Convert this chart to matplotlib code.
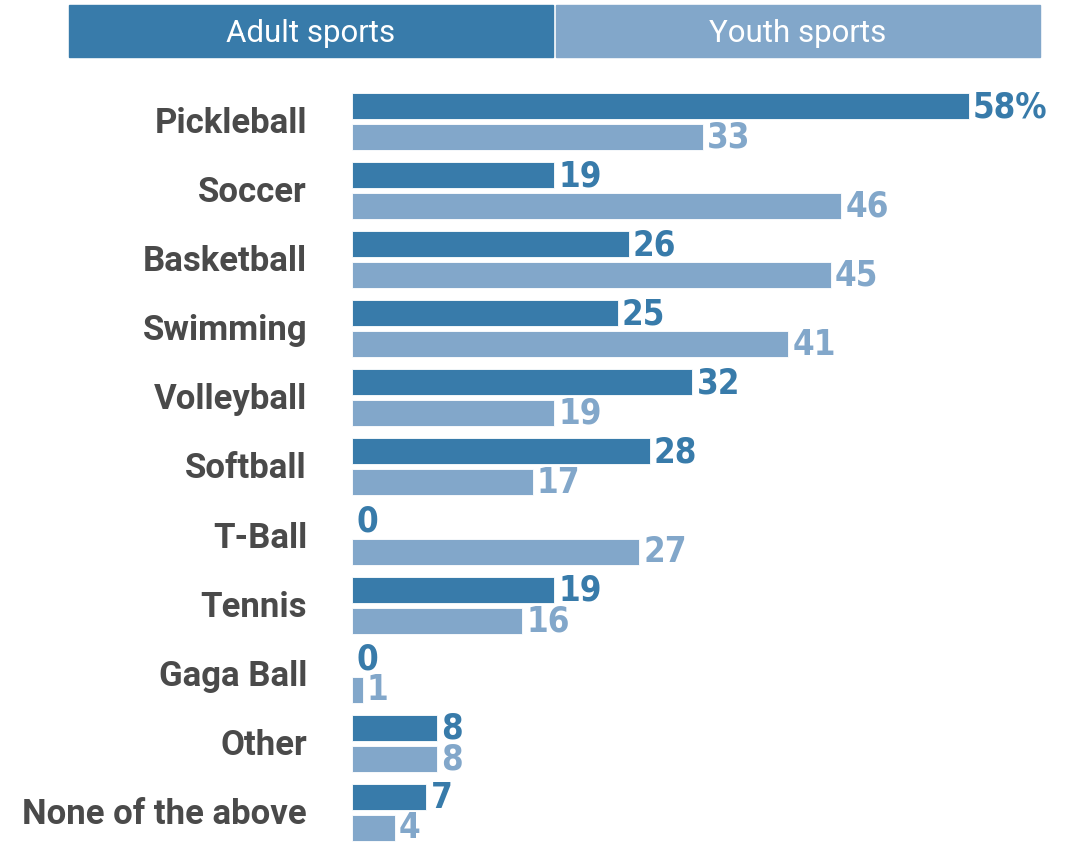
import matplotlib
matplotlib.use("Agg")
import matplotlib.pyplot as plt
from matplotlib.patches import Rectangle

categories = ["Pickleball", "Soccer", "Basketball", "Swimming", "Volleyball",
              "Softball", "T-Ball", "Tennis", "Gaga Ball", "Other", "None of the above"]
adult = [58, 19, 26, 25, 32, 28, 0, 19, 0, 8, 7]
youth = [33, 46, 45, 41, 19, 17, 27, 16, 1, 8, 4]
series_names = ["Adult sports", "Youth sports"]

DARK = "#387BAA"
LIGHT = "#82A7CA"
GREY = "#4A4A4A"

W, H = 1071, 842
fig = plt.figure(figsize=(W / 100, H / 100), dpi=100)

# axes spanning full height, left edge at bar baseline
ax_left = 352 / W
ax = fig.add_axes([ax_left, 0, 1 - ax_left, 1])
px_per_unit = 617 / 58
ax.set_xlim(0, (W - 352) / px_per_unit)
spacing = 69.1
top_center = 121.5
ax.set_ylim((H - top_center) / spacing, -top_center / spacing)
ax.axis("off")

off = 15.5 / spacing
bh = 26 / spacing
num_font = dict(family="DejaVu Sans", fontstretch="condensed", fontweight="bold", fontsize=25)

for i, (cat, a, y) in enumerate(zip(categories, adult, youth)):
    ax.barh(i - off, a, height=bh, color=DARK, edgecolor="white", linewidth=0.6)
    ax.barh(i + off, y, height=bh, color=LIGHT, edgecolor="white", linewidth=0.6)
    pad = 4 / px_per_unit
    lab_a = f"{a}%" if i == 0 else f"{a}"
    ax.text(a + pad, i - off + 0.015, lab_a, color=DARK, va="center", ha="left", **num_font)
    ax.text(y + pad, i + off + 0.005, f"{y}", color=LIGHT, va="center", ha="left", **num_font)
    fig.text(307 / W, 1 - (top_center + 2 + i * spacing) / H, cat, ha="right", va="center",
             color=GREY, fontsize=25, fontweight="bold", family="Roboto")

# header boxes
boxes = [(69, 553, DARK), (556, 1040, LIGHT)]
for (x0, x1, c), name in zip(boxes, series_names):
    fig.patches.append(Rectangle((x0 / W, 1 - 57 / H), (x1 - x0) / W, 52 / H,
                                 transform=fig.transFigure, color=c, zorder=0))
    fig.text((x0 + x1) / 2 / W, 1 - 34 / H, name, ha="center", va="center",
             color="white", fontsize=22.5, family="Roboto")

fig.savefig("out.png", dpi=100)
